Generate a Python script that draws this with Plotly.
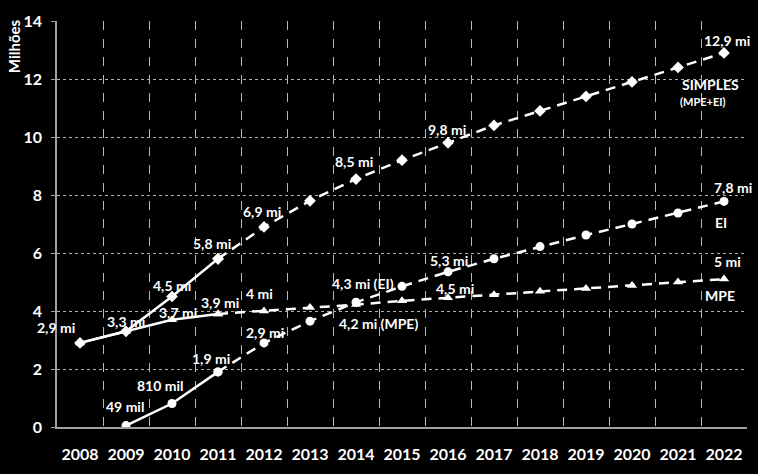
import plotly.graph_objects as go

years = list(range(2008, 2023))
simples = [2.9, 3.3, 4.5, 5.8, 6.9, 7.8, 8.55, 9.2, 9.8, 10.4, 10.9, 11.4, 11.9, 12.4, 12.9]
ei = [None, 0.049, 0.81, 1.9, 2.9, 3.65, 4.3, 4.85, 5.35, 5.8, 6.22, 6.62, 7.0, 7.38, 7.78]
mpe = [2.9, 3.3, 3.7, 3.9, 4.0, 4.12, 4.22, 4.35, 4.46, 4.56, 4.68, 4.78, 4.88, 5.0, 5.1]
last_real_year = 2011

yticks = [0, 2, 4, 6, 8, 10, 12, 14]

# value labels: (series, year, text, dx, dy)
labels = [
    ("simples", 2008, "2,9 mi", -24, 15),
    ("simples", 2009, "3,3 mi", 0, 10),
    ("simples", 2010, "4,5 mi", 0, 11),
    ("mpe", 2010, "3,7 mi", 6, 7),
    ("mpe", 2011, "3,9 mi", 2, 11),
    ("simples", 2011, "5,8 mi", -6, 15),
    ("ei", 2011, "1,9 mi", -7, 13),
    ("ei", 2010, "810 mil", -12, 18),
    ("ei", 2009, "49 mil", -1, 19),
    ("simples", 2012, "6,9 mi", -2, 15),
    ("mpe", 2012, "4 mi", -5, 18),
    ("ei", 2012, "2,9 mi", 1, 10),
    ("simples", 2014, "8,5 mi", -2, 18),
    ("simples", 2016, "9,8 mi", -1, 13),
    ("ei", 2014, "4,3 mi (EI)", 7, 19),
    ("mpe", 2014, "4,2 mi (MPE)", 22, -19),
    ("ei", 2016, "5,3 mi", 1, 11),
    ("mpe", 2016, "4,5 mi", 7, 9),
    ("simples", 2022, "12,9 mi", 3, 12),
    ("ei", 2022, "7,8 mi", 9, 14),
    ("mpe", 2022, "5 mi", 3, 18),
]

# series name labels: (series, year, text, dx, dy, size)
names = [
    ("simples", 2022, "SIMPLES", -14, -32, 14),
    ("simples", 2022, "(MPE+EI)", -21, -49, 11),
    ("ei", 2022, "EI", -3, -21, 14),
    ("mpe", 2022, "MPE", -4, -16, 14),
]

series = {"simples": simples, "ei": ei, "mpe": mpe}
symbols = {"simples": ("diamond", 9), "ei": ("circle", 9), "mpe": ("triangle-up", 9)}

fig = go.Figure()
for key, vals in series.items():
    sym, size = symbols[key]
    xr = [y for y, v in zip(years, vals) if y <= last_real_year and v is not None]
    vr = [v for y, v in zip(years, vals) if y <= last_real_year and v is not None]
    xp = [y for y, v in zip(years, vals) if y >= last_real_year and v is not None]
    vp = [v for y, v in zip(years, vals) if y >= last_real_year and v is not None]
    fig.add_trace(go.Scatter(x=xp, y=vp, mode="lines+markers",
                             line=dict(color="white", width=2.5, dash="10px,7px"),
                             marker=dict(symbol=sym, size=size, color="white"),
                             showlegend=False, hoverinfo="skip"))
    fig.add_trace(go.Scatter(x=xr, y=vr, mode="lines+markers",
                             line=dict(color="white", width=2.5),
                             marker=dict(symbol=sym, size=size, color="white"),
                             showlegend=False, hoverinfo="skip"))

font_main = dict(family="Lato", color="white", size=14, weight="bold")
for key, yr, txt, dx, dy in labels:
    v = series[key][years.index(yr)]
    fig.add_annotation(x=yr, y=v, text=txt, showarrow=False, xshift=dx, yshift=dy,
                       font=font_main)
for key, yr, txt, dx, dy, sz in names:
    v = series[key][years.index(yr)]
    fig.add_annotation(x=yr, y=v, text=txt, showarrow=False, xshift=dx, yshift=dy,
                       font=dict(family="Lato", color="white", size=sz, weight="bold"))

fig.add_annotation(xref="paper", yref="paper", x=-0.062, y=1.01, text="Milhões",
                   textangle=-90, showarrow=False, xanchor="center", yanchor="top",
                   font=dict(family="Lato", color="white", size=15, weight="bold"))

fig.update_layout(
    width=758, height=474,
    margin=dict(l=57, r=11, t=15, b=46),
    paper_bgcolor="black", plot_bgcolor="black",
    xaxis=dict(range=[years[0] - 0.5, years[-1] + 0.5], tickvals=years,
               ticktext=[str(y) for y in years], showgrid=False,
               showline=True, linecolor="#a0a0a0", linewidth=1.5,
               ticks="", ticklabelstandoff=12,
               tickfont=dict(family="Lato", color="white", size=16, weight="bold"),
               minor=dict(tick0=years[0] - 0.5, dtick=1, showgrid=True,
                          gridcolor="#b8b8b8", griddash="dash", gridwidth=1),
               zeroline=False, fixedrange=True),
    yaxis=dict(range=[0, 14], tickvals=yticks, showgrid=True, gridcolor="#b0b0b0",
               griddash="dot", gridwidth=1, showline=True, linecolor="#a0a0a0",
               linewidth=1.5, ticks="outside", ticklen=4, tickcolor="#a0a0a0",
               ticklabelstandoff=6,
               tickfont=dict(family="Lato", color="white", size=16, weight="bold"),
               zeroline=False, fixedrange=True),
)

fig.write_html("out.html", config={"displayModeBar": False},
               post_script="document.body.style.margin='0';document.body.style.overflow='hidden';document.body.style.background='black';")
